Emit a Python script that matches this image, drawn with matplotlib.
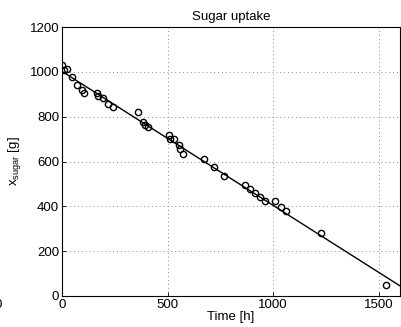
import matplotlib
matplotlib.use("Agg")
import matplotlib.pyplot as plt
import numpy as np

plt.rcParams['font.family'] = ['Liberation Sans', 'DejaVu Sans']

time_h = [0, 10, 25, 49, 72, 96, 103, 167, 170, 193, 216, 240, 361, 385, 393, 408,
          505, 511, 531, 554, 558, 574, 672, 721, 768, 866, 890, 913, 937, 961,
          1008, 1036, 1059, 1224, 1536]
sugar_g = [1031, 1010, 1012, 979, 942, 920, 905, 905, 893, 882, 857, 841, 821, 776, 762, 756,
           717, 699, 700, 674, 656, 633, 612, 575, 536, 493, 476, 460, 443, 425,
           425, 398, 379, 282, 51]
fit_intercept = 1002.0
fit_slope = -0.598
fit_t = [0, 1700]

xticks = [0, 500, 1000, 1500]
yticks = [0, 200, 400, 600, 800, 1000, 1200]

W, H = 401, 327
fs = 9.5
fig = plt.figure(figsize=(W/100, H/100), dpi=100)
ax = fig.add_axes([62/W, 1-296/H, 338/W, 269/H])

ax.plot(time_h, sugar_g, 'o', mfc='none', mec='black', ms=4.5, mew=1.0, zorder=3)
fit_y = [fit_intercept + fit_slope*t for t in fit_t]
ax.plot(fit_t, fit_y, '-', color='black', lw=1.0, zorder=2)

ax.set_xlim(0, 1600)
ax.set_ylim(0, 1200)
ax.set_xticks(xticks)
ax.set_yticks(yticks)
ax.grid(True, linestyle=(0, (1, 3)), color='#8a8a8a', linewidth=0.7)
ax.set_axisbelow(True)
ax.tick_params(direction='in', length=3, width=0.6, labelsize=fs, pad=2)
for s in ax.spines.values():
    s.set_linewidth(0.8)

ax.set_title('Sugar uptake', fontsize=fs, pad=5)
ax.set_xlabel('Time [h]', fontsize=fs, labelpad=0)
ax.set_ylabel(r'x$_{\mathregular{sugar}}$ [g]', fontsize=fs, labelpad=5)

fig.text(1.5/W, 1-305/H, '0', ha='right', va='center', fontsize=fs)

fig.savefig('out.png', dpi=100)
